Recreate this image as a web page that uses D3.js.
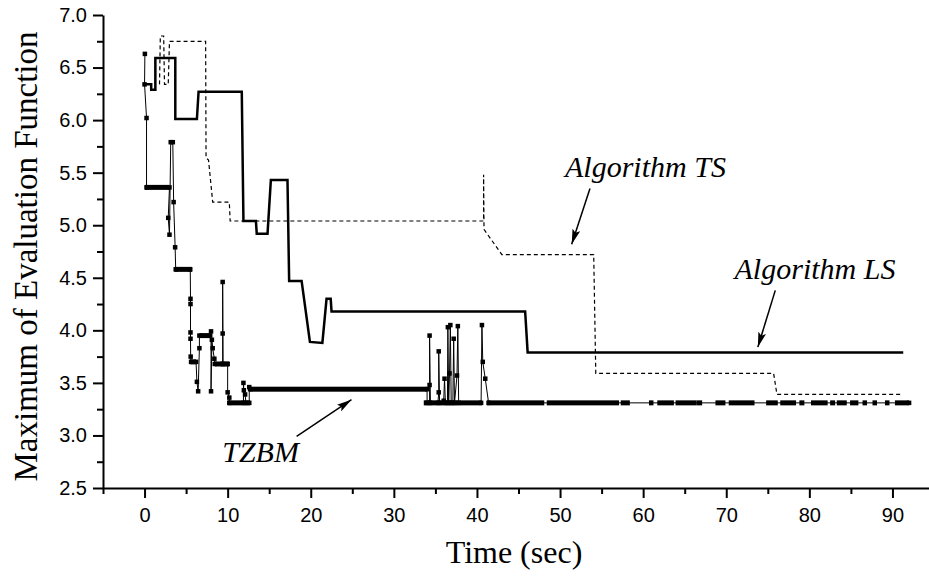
<!DOCTYPE html>
<html>
<head>
<meta charset="utf-8">
<script src="https://cdn.jsdelivr.net/npm/d3@7"></script>
<style>
  body { margin: 0; background: #fff; }
</style>
</head>
<body>
<script>
// Algorithm LS: step curve, [time, value]
const lsSteps = [
  [0, 6.34], [0.8, 6.34], [0.8, 6.29], [1.3, 6.29], [1.3, 6.59], [3.7, 6.59],
  [3.7, 6.01], [6.3, 6.01], [6.5, 6.27], [11.7, 6.27], [11.9, 5.04], [13.4, 5.04],
  [13.5, 4.92], [14.8, 4.92], [15.2, 5.43], [17.2, 5.43], [17.4, 4.47], [18.9, 4.47],
  [19.9, 3.89], [21.4, 3.88], [21.9, 4.30], [22.4, 4.30], [22.5, 4.18], [45.8, 4.18],
  [46.1, 3.79], [91.3, 3.79]
];

// Algorithm TS: dashed step curve
const tsSteps = [
  [1.8, 6.34], [1.9, 6.80], [2.3, 6.80], [2.4, 6.34], [2.85, 6.34], [3.0, 6.75],
  [7.35, 6.75], [7.4, 5.64], [7.7, 5.62], [8.2, 5.22], [10.2, 5.22], [10.3, 5.04],
  [40.8, 5.04], [40.8, 5.48], [40.85, 4.96], [43.0, 4.72], [54.05, 4.72], [54.3, 3.59],
  [75.7, 3.59], [76.1, 3.39], [91.1, 3.39]
];

// TZBM: individual points (line + square markers)
const tzbmPoints = [
  [0.04, 6.63], [0.0, 6.34], [0.24, 6.02], [0.24, 5.36], [3.0, 5.36], [2.85, 5.07],
  [3.0, 4.91], [3.15, 5.79], [3.4, 5.79], [3.5, 5.22], [3.68, 4.79], [3.75, 4.58],
  [5.5, 4.58], [5.53, 4.30], [5.53, 4.25], [5.53, 3.98], [5.53, 3.92], [5.55, 3.75],
  [5.6, 3.70], [6.2, 3.70], [6.3, 3.51], [6.45, 3.42], [6.6, 3.83], [6.6, 3.95],
  [7.9, 3.95], [8.0, 3.99], [8.0, 3.42], [8.1, 3.91], [8.2, 3.83], [8.4, 3.73],
  [8.45, 3.68], [9.4, 3.68], [9.4, 3.97], [9.4, 4.46], [9.45, 3.68], [10.0, 3.68],
  [10.0, 3.41], [10.2, 3.36], [10.2, 3.31], [11.9, 3.31], [11.9, 3.50], [11.95, 3.43],
  [12.1, 3.39], [12.2, 3.31], [12.6, 3.31], [12.6, 3.46], [12.7, 3.44], [34.0, 3.44],
  [34.0, 3.31], [34.3, 3.31], [34.3, 3.48], [34.3, 3.95], [34.4, 3.31], [35.3, 3.31],
  [35.4, 3.41], [35.4, 3.80], [35.5, 3.31], [36.0, 3.33], [36.1, 3.54], [36.2, 3.31],
  [36.45, 3.31], [36.5, 4.03], [36.6, 3.31], [36.7, 3.59], [36.8, 4.05], [36.9, 3.31],
  [37.1, 3.31], [37.2, 3.92], [37.3, 3.31], [37.6, 3.57], [37.7, 4.04], [37.8, 3.31],
  [40.5, 3.31], [40.6, 4.05], [40.7, 3.70], [41.0, 3.54], [41.4, 3.31], [92.0, 3.31]
];

// TZBM: stretches where the markers sit so close they form a solid bar [from, to, value]
const tzbmRuns = [
  [0.04, 3.0, 5.36], [3.6, 5.7, 4.58], [5.5, 6.2, 3.70], [6.6, 7.9, 3.95],
  [8.45, 10.2, 3.68], [10.0, 12.7, 3.31], [12.6, 34.0, 3.44],
  [33.6, 40.6, 3.31], [41.2, 48.1, 3.31], [48.4, 57.1, 3.31], [57.3, 58.4, 3.31],
  [60.7, 61.1, 3.31], [61.7, 63.7, 3.31], [63.9, 66.4, 3.31], [66.4, 67.1, 3.31],
  [68.7, 69.9, 3.31], [70.3, 73.4, 3.31], [74.8, 76.2, 3.31], [76.5, 78.4, 3.31],
  [78.8, 79.4, 3.31], [80.2, 82.2, 3.31], [82.5, 83.1, 3.31], [83.3, 84.5, 3.31],
  [84.9, 85.9, 3.31], [86.4, 86.9, 3.31], [87.6, 88.1, 3.31], [89.1, 89.6, 3.31],
  [90.3, 92.0, 3.31]
];

const xTicks = [0, 10, 20, 30, 40, 50, 60, 70, 80, 90];
const xMinorTicks = [-5, 5, 15, 25, 35, 45, 55, 65, 75, 85, 95];
const yTicks = [2.5, 3.0, 3.5, 4.0, 4.5, 5.0, 5.5, 6.0, 6.5, 7.0];
const yMinorTicks = [2.75, 3.25, 3.75, 4.25, 4.75, 5.25, 5.75, 6.25, 6.75];

// labels and arrows, in data coordinates
const labels = [
  { text: "Algorithm TS", t: 50.6, v: 5.46 },
  { text: "Algorithm LS", t: 71.0, v: 4.49 },
  { text: "TZBM", t: 9.35, v: 2.75 }
];
const arrows = [
  { from: [53.6, 5.35], to: [51.4, 4.82] },
  { from: [75.9, 4.38], to: [73.8, 3.84] },
  { from: [18.3, 2.99], to: [24.9, 3.34] }
];

const width = 929, height = 577;

const svg = d3.select("body").append("svg")
  .attr("width", width)
  .attr("height", height);

const x = d3.scaleLinear().domain([-5, 95]).range([103, 934]);
const y = d3.scaleLinear().domain([2.5, 7.0]).range([488, 15]);

const line = d3.line().x(d => x(d[0])).y(d => y(d[1]));

// axes
const tickFont = "'Liberation Sans', Arial, sans-serif";

const gx = svg.append("g").attr("transform", `translate(0,${y(2.5)})`);
gx.call(d3.axisBottom(x).tickValues(xTicks).tickSize(10).tickSizeOuter(0).tickPadding(10).tickFormat(d3.format("d")));
gx.append("g").call(d3.axisBottom(x).tickValues(xMinorTicks).tickSize(6).tickFormat(""))
  .select(".domain").remove();

const gy = svg.append("g").attr("transform", `translate(${x(-5)},0)`);
gy.call(d3.axisLeft(y).tickValues(yTicks).tickSize(10).tickSizeOuter(0).tickPadding(6).tickFormat(d3.format(".1f")));
gy.append("g").call(d3.axisLeft(y).tickValues(yMinorTicks).tickSize(6).tickFormat(""))
  .select(".domain").remove();

svg.selectAll(".domain, .tick line").attr("stroke", "#000").attr("stroke-width", 2);
svg.selectAll(".tick text")
  .attr("fill", "#000")
  .style("font-family", tickFont)
  .style("font-size", "20px");

// axis titles
svg.append("text")
  .attr("transform", `translate(37,${(y(2.5) + y(7.0)) / 2 + 5}) rotate(-90)`)
  .attr("text-anchor", "middle")
  .style("font-family", "'Liberation Serif', 'Times New Roman', serif")
  .style("font-size", "33px")
  .text("Maximum of Evaluation Function");

svg.append("text")
  .attr("x", 514)
  .attr("y", 563)
  .attr("text-anchor", "middle")
  .style("font-family", "'Liberation Serif', 'Times New Roman', serif")
  .style("font-size", "32px")
  .text("Time (sec)");

// series
svg.append("path")
  .datum(tsSteps)
  .attr("d", line)
  .attr("fill", "none")
  .attr("stroke", "#000")
  .attr("stroke-width", 1.2)
  .attr("stroke-dasharray", "4,3");

svg.append("path")
  .datum(lsSteps)
  .attr("d", line)
  .attr("fill", "none")
  .attr("stroke", "#000")
  .attr("stroke-width", 2.5);

svg.append("path")
  .datum(tzbmPoints)
  .attr("d", line)
  .attr("fill", "none")
  .attr("stroke", "#000")
  .attr("stroke-width", 1);

svg.append("g")
  .selectAll("rect")
  .data(tzbmRuns)
  .enter().append("rect")
  .attr("x", d => x(d[0]))
  .attr("y", d => y(d[2]) - 2.5)
  .attr("width", d => Math.max(x(d[1]) - x(d[0]), 4.5))
  .attr("height", 5)
  .attr("fill", "#000");

svg.append("g")
  .selectAll("rect")
  .data(tzbmPoints)
  .enter().append("rect")
  .attr("x", d => x(d[0]) - 2.25)
  .attr("y", d => y(d[1]) - 2.25)
  .attr("width", 4.5)
  .attr("height", 4.5)
  .attr("fill", "#000");

// annotations
svg.append("defs").append("marker")
  .attr("id", "head")
  .attr("markerUnits", "userSpaceOnUse")
  .attr("markerWidth", 16)
  .attr("markerHeight", 8)
  .attr("refX", 15)
  .attr("refY", 4)
  .attr("orient", "auto")
  .append("path")
  .attr("d", "M0,0 L15,4 L0,8 L3,4 Z")
  .attr("fill", "#000");

svg.append("g")
  .selectAll("line")
  .data(arrows)
  .enter().append("line")
  .attr("x1", d => x(d.from[0]))
  .attr("y1", d => y(d.from[1]))
  .attr("x2", d => x(d.to[0]))
  .attr("y2", d => y(d.to[1]))
  .attr("stroke", "#000")
  .attr("stroke-width", 1.5)
  .attr("marker-end", "url(#head)");

svg.append("g")
  .selectAll("text")
  .data(labels)
  .enter().append("text")
  .attr("x", d => x(d.t))
  .attr("y", d => y(d.v))
  .style("font-family", "'Liberation Serif', 'Times New Roman', serif")
  .style("font-style", "italic")
  .style("font-size", "30px")
  .text(d => d.text);
</script>
</body>
</html>
